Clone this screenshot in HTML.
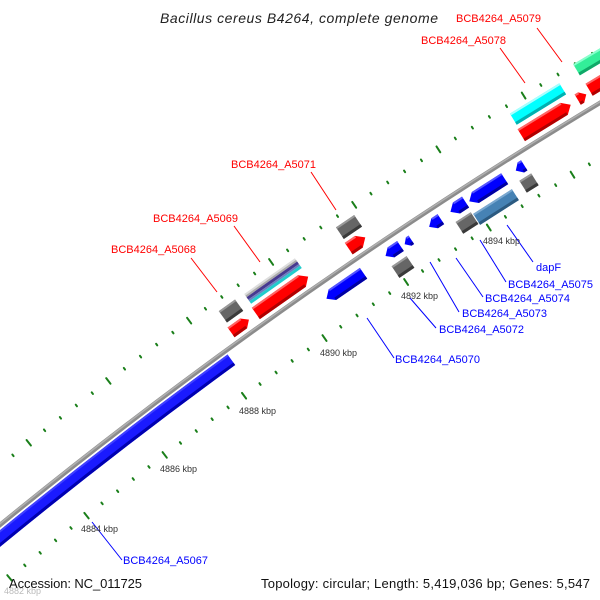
<!DOCTYPE html>
<html><head><meta charset="utf-8"><style>
html,body{margin:0;padding:0;background:#fff;width:600px;height:600px;overflow:hidden;}
svg{display:block;}
text{font-family:"Liberation Sans",sans-serif;}
</style></head><body>
<svg id="s" width="600" height="600" viewBox="0 0 600 600" xmlns="http://www.w3.org/2000/svg">
<g id="dots"></g>
<g id="bb"></g>
<g id="feat"></g>
<g font-size="11" fill="#ff0000">
<text x="456" y="22">BCB4264_A5079</text>
<text x="421" y="44">BCB4264_A5078</text>
<text x="231" y="168">BCB4264_A5071</text>
<text x="153" y="222">BCB4264_A5069</text>
<text x="111" y="253">BCB4264_A5068</text>
</g>
<g stroke="#ff0000" stroke-width="1">
<line x1="537" y1="28" x2="562" y2="62"/>
<line x1="500" y1="48" x2="525" y2="83"/>
<line x1="311" y1="172" x2="336" y2="210"/>
<line x1="234" y1="226" x2="260" y2="262"/>
<line x1="191" y1="258" x2="217" y2="292"/>
</g>
<g font-size="11" fill="#0000ff">
<text x="536" y="271">dapF</text>
<text x="508" y="288">BCB4264_A5075</text>
<text x="485" y="302">BCB4264_A5074</text>
<text x="462" y="317">BCB4264_A5073</text>
<text x="439" y="333">BCB4264_A5072</text>
<text x="395" y="363">BCB4264_A5070</text>
<text x="123" y="564">BCB4264_A5067</text>
</g>
<g stroke="#0000ff" stroke-width="1">
<line x1="507" y1="225" x2="533" y2="262"/>
<line x1="480" y1="240" x2="506" y2="282"/>
<line x1="456" y1="258" x2="483" y2="297"/>
<line x1="430" y1="262" x2="459" y2="312"/>
<line x1="410" y1="298" x2="436" y2="328"/>
<line x1="367" y1="318" x2="394" y2="358"/>
<line x1="92" y1="522" x2="122" y2="560"/>
</g>
<g font-size="9" fill="#333">
<text x="483" y="244">4894 kbp</text>
<text x="401" y="299">4892 kbp</text>
<text x="320" y="356">4890 kbp</text>
<text x="239" y="414">4888 kbp</text>
<text x="160" y="472">4886 kbp</text>
<text x="81" y="532">4884 kbp</text>
<text x="4" y="594" fill="#bbb">4882 kbp</text>
</g>
<text x="160" y="23" font-size="14" font-style="italic" fill="#222" textLength="278">Bacillus cereus B4264, complete genome</text>
<text x="9" y="588" font-size="13" fill="#111" textLength="133">Accession: NC_011725</text>
<text x="261" y="588" font-size="13" fill="#111" textLength="329">Topology: circular; Length: 5,419,036 bp; Genes: 5,547</text>
</svg>
<script>
var NS="http://www.w3.org/2000/svg";
var CX=3238,CY=4491,R=5120;
function el(p,t,a){var e=document.createElementNS(NS,t);for(var k in a)e.setAttribute(k,a[k]);p.appendChild(e);return e;}
function ang(x,y){return Math.atan2(y-CY,x-CX);}
function P(a,r){return [CX+r*Math.cos(a),CY+r*Math.sin(a)];}
function arc(a1,a2,r){var p=P(a1,r),q=P(a2,r);return "M"+p[0]+" "+p[1]+" A"+r+" "+r+" 0 0 1 "+q[0]+" "+q[1];}
var A0=ang(-30,560),A1=ang(640,60);
var bb=document.getElementById("bb");
el(bb,"path",{d:arc(A0,A1,R),stroke:"#8c8c8c","stroke-width":4.5,fill:"none"});
el(bb,"path",{d:arc(A0,A1,R+1),stroke:"#b0b0b0","stroke-width":1.5,fill:"none"});
var aE=ang(233,362);
el(bb,"path",{d:arc(A0,aE,R-10.5),stroke:"#1a1aff","stroke-width":13,fill:"none"});
el(bb,"path",{d:arc(A0,aE,R-15.5),stroke:"#0000b0","stroke-width":3,fill:"none"});
el(bb,"path",{d:arc(A0,aE,R-5),stroke:"#4040ff","stroke-width":2,fill:"none"});
var dg=document.getElementById("dots");
var t0=ang(86,515),dt=19.8/5073;
for(var k=-40;k<50;k++){
 var a=t0+k*dt,tick=(k%5==0);
 [5073,5166].forEach(function(r){
  var h=tick?3.5:1;
  var p=P(a,r+h),q=P(a,r-h);
  el(dg,"line",{x1:p[0],y1:p[1],x2:q[0],y2:q[1],stroke:"#1a7f1a","stroke-width":2,"stroke-linecap":"round"});
 });
}
var fg=document.getElementById("feat");
var dark={"#ff0000":"#b00000","#666666":"#3a3a3a","#0000ff":"#0000a0","#00ffff":"#00b0b0","#4682b4":"#2c5a80","#33ee99":"#10a868"};
var light={"#ff0000":"#ff6666","#666666":"#999999","#0000ff":"#5555ff","#00ffff":"#aaffff","#4682b4":"#7aa8d0","#33ee99":"#88ffcc"};
function F(x,y,L,T,c,d){
 var rot=ang(x,y)*180/Math.PI+90;
 var g=el(fg,"g",{transform:"translate("+x+","+y+") rotate("+rot+")"});
 var l=-L/2,r=L/2,t=-T/2,b=T/2,h=Math.min(T*0.55,L*0.6),pts;
 if(d==1)pts=[[l,t],[r-h,t],[r,0],[r-h,b],[l,b]];
 else if(d==-1)pts=[[l+h,t],[r,t],[r,b],[l+h,b],[l,0]];
 else pts=[[l,t],[r,t],[r,b],[l,b]];
 el(g,"polygon",{points:pts.map(function(p){return p.join(",")}).join(" "),fill:c});
 var x1=l+(d==-1?h:0),x2=r-(d==1?h:0);
 el(g,"rect",{x:x1,y:b-3,width:x2-x1,height:3,fill:dark[c]});
 el(g,"rect",{x:x1,y:t,width:x2-x1,height:2,fill:light[c]});
}
var G="#666666",RD="#ff0000",B="#0000ff";
F(231,311,20,14,G,0);F(240,326,22,12,RD,1);
F(282,295,64,14,RD,1);
F(349,227,22,14,G,0);F(357,243,20,14,RD,1);
F(345,286,45,13,B,-1);
F(538,104,58,13,"#00ffff",0);F(546,120,58,14,RD,1);
F(598,57,50,13,"#33ee99",0);F(582,97,10,12,RD,1);F(602,82,30,14,RD,0);
F(520,168,10,12,B,-1);F(529,183,14,14,G,0);
F(487,190,42,13,B,-1);F(496,207,46,13,"#4682b4",0);
F(458,207,18,13,B,-1);F(467,223,18,14,G,0);
F(435,223,14,12,B,-1);F(408,242,8,10,B,-1);
F(393,251,18,12,B,-1);F(403,267,18,14,G,0);
(function(){var x=273,y=281,L=62;var rot=ang(x,y)*180/Math.PI+90;
 var g=el(fg,"g",{transform:"translate("+x+","+y+") rotate("+rot+")"});
 var s=[["#dddddd",2],["#aaaaaa",2],["#47398f",3],["#6a7fc0",2],["#22cccc",3]],yy=-6;
 s.forEach(function(q){el(g,"rect",{x:-L/2,y:yy,width:L,height:q[1],fill:q[0]});yy+=q[1];});
})();
</script>
</body></html>
